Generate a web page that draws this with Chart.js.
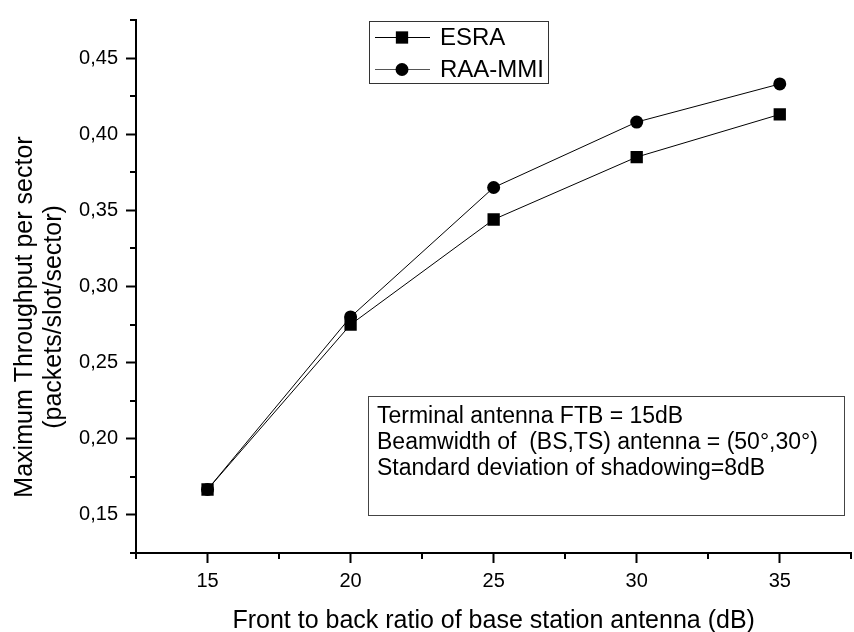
<!DOCTYPE html>
<html><head><meta charset="utf-8">
<script src="https://cdn.jsdelivr.net/npm/chart.js@4.4.0/dist/chart.umd.min.js"></script>
<style>
html,body{margin:0;padding:0;overflow:hidden;background:#fff;width:854px;height:632px}
#wrap{position:relative;width:860px;height:632px}
canvas{display:block}
</style></head>
<body><div id="wrap"><canvas id="c" width="860" height="632" style="width:860px;height:632px"></canvas></div>
<script>
const xValues = [15, 20, 25, 30, 35];
const esraValues = [0.1667, 0.275, 0.344, 0.385, 0.413];
const raaValues = [0.1667, 0.280, 0.365, 0.408, 0.433];
const seriesNames = ['ESRA', 'RAA-MMI'];
const xMajorTicks = [15, 20, 25, 30, 35];
const xMinorTicks = [12.5, 17.5, 22.5, 27.5, 32.5, 37.5];
const yMajorTicks = [0.15, 0.20, 0.25, 0.30, 0.35, 0.40, 0.45];
const yMinorTicks = [0.125, 0.175, 0.225, 0.275, 0.325, 0.375, 0.425, 0.475];
const xTitle = 'Front to back ratio of base station antenna (dB)';
const yTitleLines = ['Maximum Throughput per sector', '(packets/slot/sector)'];
const noteLines = ['Terminal antenna FTB = 15dB', 'Beamwidth of  (BS,TS) antenna = (50°,30°)', 'Standard deviation of shadowing=8dB'];

const FONT = '"Liberation Sans", Arial, sans-serif';

function drawMarker(ctx, style, r, x, y) {
  ctx.beginPath();
  if (style === 'rect') {
    const s = r * Math.SQRT1_2;
    ctx.rect(x - s, y - s, 2 * s, 2 * s);
  } else {
    ctx.arc(x, y, r, 0, Math.PI * 2);
  }
  ctx.fillStyle = '#000';
  ctx.fill();
}

const decor = {
  id: 'decor',
  afterDraw(chart) {
    const ctx = chart.ctx;
    const xs = chart.scales.x, ys = chart.scales.y;
    const area = chart.chartArea;
    ctx.save();
    // minor ticks
    ctx.strokeStyle = '#000';
    ctx.lineWidth = 2;
    xMinorTicks.forEach(v => {
      const px = Math.round(xs.getPixelForValue(v));
      ctx.beginPath(); ctx.moveTo(px, area.bottom); ctx.lineTo(px, area.bottom + 6); ctx.stroke();
    });
    yMinorTicks.forEach(v => {
      const py = Math.round(ys.getPixelForValue(v));
      ctx.beginPath(); ctx.moveTo(area.left, py); ctx.lineTo(area.left - 6, py); ctx.stroke();
    });
    // x title
    ctx.fillStyle = '#000';
    ctx.font = '25px ' + FONT;
    ctx.textAlign = 'center';
    ctx.textBaseline = 'alphabetic';
    ctx.fillText(xTitle, (area.left + area.right) / 2, 628);
    // y title
    ctx.save();
    ctx.translate(32, 317);
    ctx.rotate(-Math.PI / 2);
    ctx.fillText(yTitleLines[0], 0, 0);
    ctx.fillText(yTitleLines[1], 0, 29);
    ctx.restore();
    // legend
    ctx.lineWidth = 1;
    ctx.strokeStyle = '#333';
    ctx.strokeRect(369.5, 21.5, 179, 62);
    const rows = [37, 69];
    chart.data.datasets.forEach((ds, i) => {
      const y = rows[i];
      ctx.strokeStyle = i === 0 ? '#000' : '#555';
      ctx.lineWidth = 1;
      ctx.beginPath(); ctx.moveTo(375, y + 0.5); ctx.lineTo(430, y + 0.5); ctx.stroke();
      drawMarker(ctx, ds.pointStyle, ds.pointRadius, 402, y + 0.5);
      ctx.fillStyle = '#000';
      ctx.font = '24px ' + FONT;
      ctx.textAlign = 'left';
      ctx.textBaseline = 'middle';
      ctx.fillText(ds.label, 440, y + 1);
    });
    // note box
    ctx.strokeStyle = '#444';
    ctx.lineWidth = 1;
    ctx.strokeRect(368.5, 396.5, 476, 119);
    ctx.fillStyle = '#000';
    ctx.font = '23px ' + FONT;
    ctx.textAlign = 'left';
    ctx.textBaseline = 'alphabetic';
    noteLines.forEach((t, i) => ctx.fillText(t, 377, 423 + i * 26));
    ctx.restore();
  }
};

new Chart(document.getElementById('c').getContext('2d'), {
  type: 'line',
  data: {
    datasets: [
      {
        label: seriesNames[0],
        data: xValues.map((x, i) => ({ x: x, y: esraValues[i] })),
        borderColor: '#000', borderWidth: 1, tension: 0,
        pointStyle: 'rect', pointRadius: 8.7,
        pointBackgroundColor: '#000', pointBorderColor: '#000', pointBorderWidth: 0
      },
      {
        label: seriesNames[1],
        data: xValues.map((x, i) => ({ x: x, y: raaValues[i] })),
        borderColor: '#000', borderWidth: 1, tension: 0,
        pointStyle: 'circle', pointRadius: 6.5,
        pointBackgroundColor: '#000', pointBorderColor: '#000', pointBorderWidth: 0
      }
    ]
  },
  options: {
    responsive: false,
    animation: false,
    devicePixelRatio: 1,
    layout: { padding: { left: 0, top: 11, right: 2.5, bottom: 0 } },
    plugins: { legend: { display: false }, tooltip: { enabled: false } },
    scales: {
      x: {
        type: 'linear', min: 12.5, max: 37.5,
        afterBuildTicks: s => { s.ticks = xMajorTicks.map(v => ({ value: v })); },
        afterFit: s => { s.height = 79; },
        grid: { drawOnChartArea: false, drawTicks: true, tickLength: 10, tickColor: '#000', tickWidth: 2 },
        border: { display: true, color: '#000', width: 2 },
        ticks: { font: { family: FONT, size: 20 }, color: '#000', padding: 6, maxRotation: 0, autoSkip: false }
      },
      y: {
        type: 'linear', min: 0.125, max: 0.475,
        afterBuildTicks: s => { s.ticks = yMajorTicks.map(v => ({ value: v })); },
        afterFit: s => { s.width = 136; },
        grid: { drawOnChartArea: false, drawTicks: true, tickLength: 10, tickColor: '#000', tickWidth: 2 },
        border: { display: true, color: '#000', width: 2 },
        ticks: { font: { family: FONT, size: 20 }, color: '#000', padding: 8, autoSkip: false,
          callback: v => v.toFixed(2).replace('.', ',') }
      }
    }
  },
  plugins: [decor]
});
</script>
</body></html>
